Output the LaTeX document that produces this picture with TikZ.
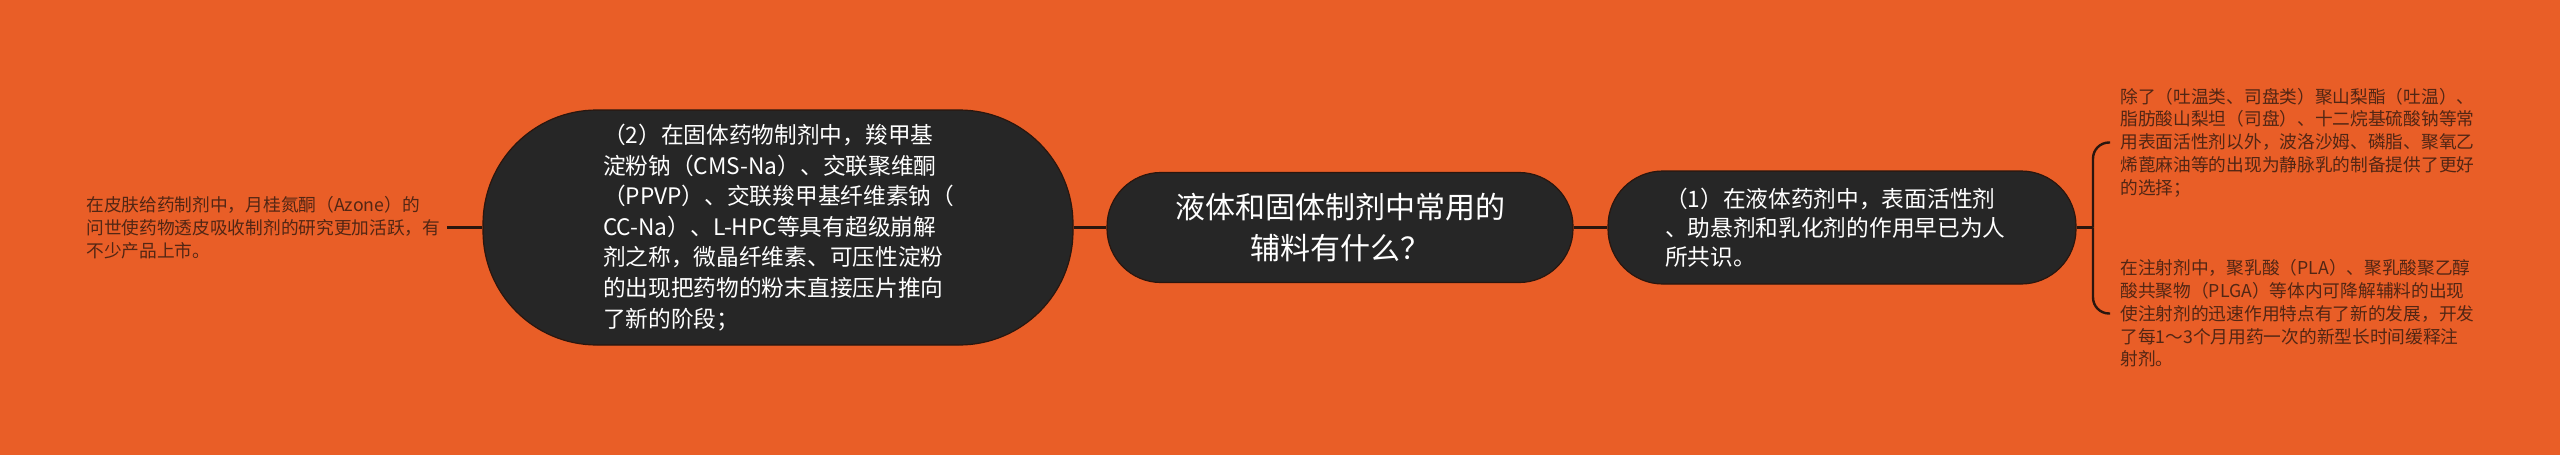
\documentclass[tikz,border=0pt]{standalone}
\usepackage{fontspec}
\newfontfamily\cjk{Noto Sans CJK SC}
\definecolor{bgorange}{RGB}{233,94,39}
\definecolor{nodedark}{RGB}{38,38,38}
\definecolor{linedark}{RGB}{42,22,14}
\definecolor{leaftext}{RGB}{82,38,20}
\tikzset{
  topic/.style={draw=linedark, line width=0.6pt, fill=nodedark, text=white, inner sep=0pt},
  leaf/.style={text=leaftext, anchor=west, align=left, inner ysep=0pt,
    font=\cjk\fontsize{8.85pt}{11.4pt}\selectfont},
  branch/.style={draw=linedark, line width=1.4pt}
}
\begin{document}
\begin{tikzpicture}[x=0.5pt,y=-0.5pt]
      \fill[bgorange] (0,0) rectangle (2560,455);
      \useasboundingbox (0,0) rectangle (2560,455);
      \node[topic, rounded corners=27pt, minimum width=233pt, minimum height=55pt,
        text width=200pt, align=center, font=\cjk\fontsize{15pt}{20.25pt}\selectfont]
        (main) at (1340,227.5) {液体和固体制剂中常用的\\辅料有什么？};
      \node[topic, rounded corners=57pt, minimum width=295pt, minimum height=117.5pt,
        text width=175pt, align=left, font=\cjk\fontsize{11.35pt}{15.3pt}\selectfont]
        (solid) at (778,227.5) {（2）在固体药物制剂中，羧甲基\\淀粉钠（CMS-Na）、交联聚维酮\\（PPVP）、交联羧甲基纤维素钠（\\CC-Na）、L-HPC等具有超级崩解\\剂之称，微晶纤维素、可压性淀粉\\的出现把药物的粉末直接压片推向\\了新的阶段；};
      \node[topic, rounded corners=27.5pt, minimum width=234pt, minimum height=56.5pt,
        text width=177pt, align=left, font=\cjk\fontsize{11.35pt}{14.6pt}\selectfont]
        (liquid) at (1842,227.5) {（1）在液体药剂中，表面活性剂\\、助悬剂和乳化剂的作用早已为人\\所共识。};
      \node[leaf, inner xsep=3pt] (skin) at (80,227.5) {在皮肤给药制剂中，月桂氮酮（Azone）的\\问世使药物透皮吸收制剂的研究更加活跃，有\\不少产品上市。};
      \node[leaf, inner xsep=5pt] (emul) at (2110,142.5) {除了（吐温类、司盘类）聚山梨酯（吐温）、\\脂肪酸山梨坦（司盘）、十二烷基硫酸钠等常\\用表面活性剂以外，波洛沙姆、磷脂、聚氧乙\\烯蓖麻油等的出现为静脉乳的制备提供了更好\\的选择；};
      \node[leaf, inner xsep=5pt] (inject) at (2110,313.5) {在注射剂中，聚乳酸（PLA）、聚乳酸聚乙醇\\酸共聚物（PLGA）等体内可降解辅料的出现\\使注射剂的迅速作用特点有了新的发展，开发\\了每1～3个月用药一次的新型长时间缓释注\\射剂。};
      \coordinate (fork) at (2093,227.5);
      \draw[branch] (solid) -- (main);
      \draw[branch] (main) -- (liquid);
      \draw[branch] (skin) -- (solid);
      \draw[branch] (liquid) -- (fork);
      \draw[branch, line width=1.2pt, rounded corners=8pt] (fork) |- (emul.west);
      \draw[branch, line width=1.2pt, rounded corners=8pt] (fork) |- (inject.west);
    \end{tikzpicture}
\end{document}
